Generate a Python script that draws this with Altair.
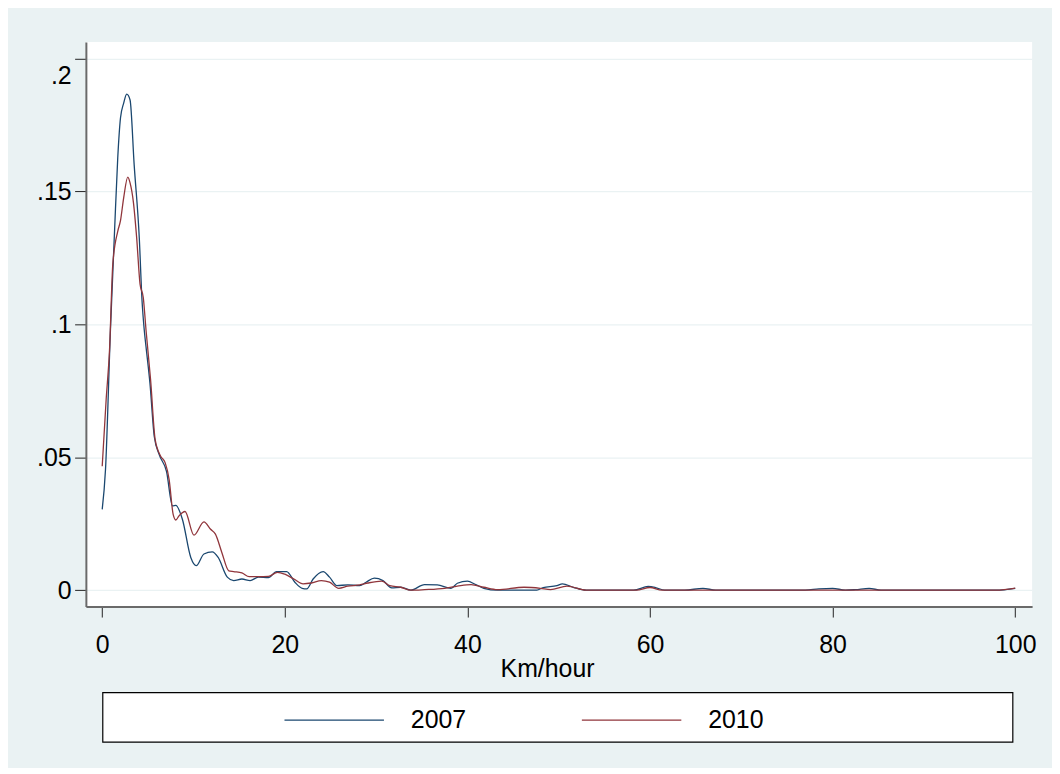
import altair as alt
import pandas as pd

# ---- data ----
x2007 = [0, 0.36, 0.9, 1.35, 1.7, 2.0, 2.35, 2.68, 3.05, 3.5, 4.06, 4.36, 4.6, 4.8, 5.23, 5.7,
         6.24, 7.04, 7.7, 8.06, 8.78, 9.7, 10.3, 11.14, 12.05, 12.7, 13.7, 14.4, 15.3, 16.2,
         17.1, 18.2, 19.1, 20.2, 21.1, 21.9, 22.4, 23.1, 24.2, 24.9, 25.7, 26.9, 28.2, 28.9,
         29.8, 30.75, 31.7, 32.7, 33.8, 35.3, 36.7, 38.2, 38.9, 40.0, 40.9, 41.8, 43.3, 47.6,
         48.3, 49.8, 50.4, 51.6, 53.0, 58.2, 59.8, 60.6, 61.6, 63.8, 65.8, 67.2, 77.0, 78.5,
         80.0, 81.4, 82.5, 84.0, 85.3, 97.9, 100.0]
y2007 = [0.0304, 0.0454, 0.0978, 0.135, 0.1626, 0.1776, 0.1832, 0.1866, 0.1844, 0.160, 0.1325,
         0.109, 0.098, 0.0915, 0.0778, 0.0578, 0.051, 0.0447, 0.0317, 0.0319, 0.0267, 0.0123,
         0.0092, 0.0136, 0.0144, 0.0123, 0.0049, 0.0036, 0.0042, 0.0036, 0.0049, 0.0047, 0.007,
         0.007, 0.003, 0.0007, 0.0005, 0.0042, 0.007, 0.0049, 0.0017, 0.002, 0.0017, 0.003,
         0.0045, 0.0036, 0.0009, 0.0011, 0.0, 0.0021, 0.002, 0.0007, 0.0026, 0.0034, 0.0021,
         0.0007, 0.0, 0.0, 0.001, 0.0017, 0.0024, 0.0011, 0.0, 0.0, 0.0014, 0.001, 0.0, 0.0,
         0.0007, 0.0, 0.0, 0.0005, 0.0007, 0.0, 0.0002, 0.0007, 0.0, 0.0, 0.0007]

x2010 = [0, 0.43, 0.8, 1.16, 1.7, 2.0, 2.35, 2.8, 3.05, 3.42, 3.77, 4.14, 4.5, 4.8, 5.3, 5.8,
         6.4, 6.9, 7.33, 7.77, 8.06, 8.4, 9.07, 10.05, 11.14, 11.87, 12.4, 13.1, 13.86, 14.4,
         15.3, 16.1, 17.1, 18.2, 19.2, 20.0, 21.0, 22.0, 22.9, 24.0, 24.9, 25.9, 26.9, 28.2,
         29.1, 30.6, 31.5, 32.7, 33.8, 35.3, 37.5, 38.9, 40.4, 41.8, 43.3, 46.2, 48.0, 49.1,
         50.9, 53.0, 58.5, 60.0, 61.3, 97.9, 100.0]
y2010 = [0.0466, 0.0716, 0.0903, 0.1227, 0.135, 0.139, 0.1476, 0.1554, 0.1532, 0.1458, 0.1327,
         0.1152, 0.110, 0.0978, 0.079, 0.0566, 0.0504, 0.0479, 0.0416, 0.0285, 0.0264, 0.0279,
         0.0296, 0.0207, 0.0257, 0.0229, 0.0211, 0.0142, 0.0073, 0.007, 0.0065, 0.0051, 0.0051,
         0.0052, 0.0067, 0.006, 0.0042, 0.0024, 0.0027, 0.0036, 0.003, 0.0007, 0.0015, 0.002,
         0.0027, 0.0034, 0.0017, 0.0011, 0.0, 0.0002, 0.0007, 0.0015, 0.0021, 0.0011, 0.0002,
         0.0011, 0.0007, 0.0002, 0.0015, 0.0, 0.0, 0.001, 0.0, 0.0, 0.0008]

series_names = ["2007", "2010"]
series_colors = ["#1a476f", "#90353b"]
y_ticks = [0, 0.05, 0.1, 0.15, 0.2]
x_ticks = [0, 20, 40, 60, 80, 100]
x_title = "Km/hour"

df = pd.concat([
    pd.DataFrame({"speed": x2007, "density": y2007, "year": "2007", "order": range(len(x2007))}),
    pd.DataFrame({"speed": x2010, "density": y2010, "year": "2010", "order": range(len(x2010))}),
])

FONT = "Liberation Sans"
BG = "#eaf2f3"

lines = alt.Chart(df).mark_line(strokeWidth=1.3, interpolate="monotone").encode(
    x=alt.X("speed:Q",
            scale=alt.Scale(domain=[-1.79, 101.85], nice=False, zero=False),
            axis=alt.Axis(values=x_ticks, title=x_title, grid=False,
                          tickSize=10.6, labelPadding=35.5, labelBaseline="alphabetic",
                          labelFontSize=25, labelColor="black", labelFont=FONT,
                          titleFontSize=25, titleFont=FONT, titleFontWeight="normal",
                          titleColor="black", titleX=463.7, titleY=70.5,
                          titleBaseline="alphabetic", titleAlign="center",
                          domainColor="#6a6a6a", domainWidth=2, tickColor="#222222",
                          tickWidth=1, labelFlush=False)),
    y=alt.Y("density:Q",
            scale=alt.Scale(domain=[-0.00614, 0.20625], nice=False, zero=False),
            axis=alt.Axis(values=y_ticks, title=None, grid=True, gridColor=BG, gridWidth=1.2,
                          labelExpr="datum.value == 0 ? '0' : replace(format(datum.value, '.2~f'), /^0/, '')",
                          labelOffset={"condition": {"test": "datum.value >= 0.19", "value": 17},
                                       "value": 0},
                          tickSize=11.3, labelPadding=3.5, labelFontSize=25,
                          labelColor="black", labelFont=FONT,
                          domainColor="#6a6a6a", domainWidth=2, tickColor="#222222",
                          tickWidth=1, labelFlush=False)),
    color=alt.Color("year:N",
                    scale=alt.Scale(domain=series_names, range=series_colors),
                    legend=alt.Legend(orient="none", legendX=198.7, legendY=631,
                                      direction="horizontal", columns=2, title=None,
                                      symbolType="stroke", symbolSize=10000,
                                      symbolStrokeWidth=1.3, labelFontSize=25,
                                      labelFont=FONT, labelColor="black",
                                      labelOffset=26, columnPadding=113)),
    order="order:Q",
)

box_df = pd.DataFrame({"k": [0]})
legend_box = alt.Chart(box_df).mark_rect(fill="white", stroke="black", strokeWidth=1.2).encode(
    x=alt.value(17.0), x2=alt.value(932.0), y=alt.value(654.3), y2=alt.value(704.0)
)

chart = alt.layer(legend_box, lines).properties(
    width=951.4, height=567.7,
    autosize=alt.AutoSizeParams(type="none"),
    padding={"left": 78.3, "top": 32, "right": 20, "bottom": 160},
    background=BG,
).configure_view(fill="white", stroke=None)

chart.save("out.html", embed_options={"renderer": "svg", "actions": False})
